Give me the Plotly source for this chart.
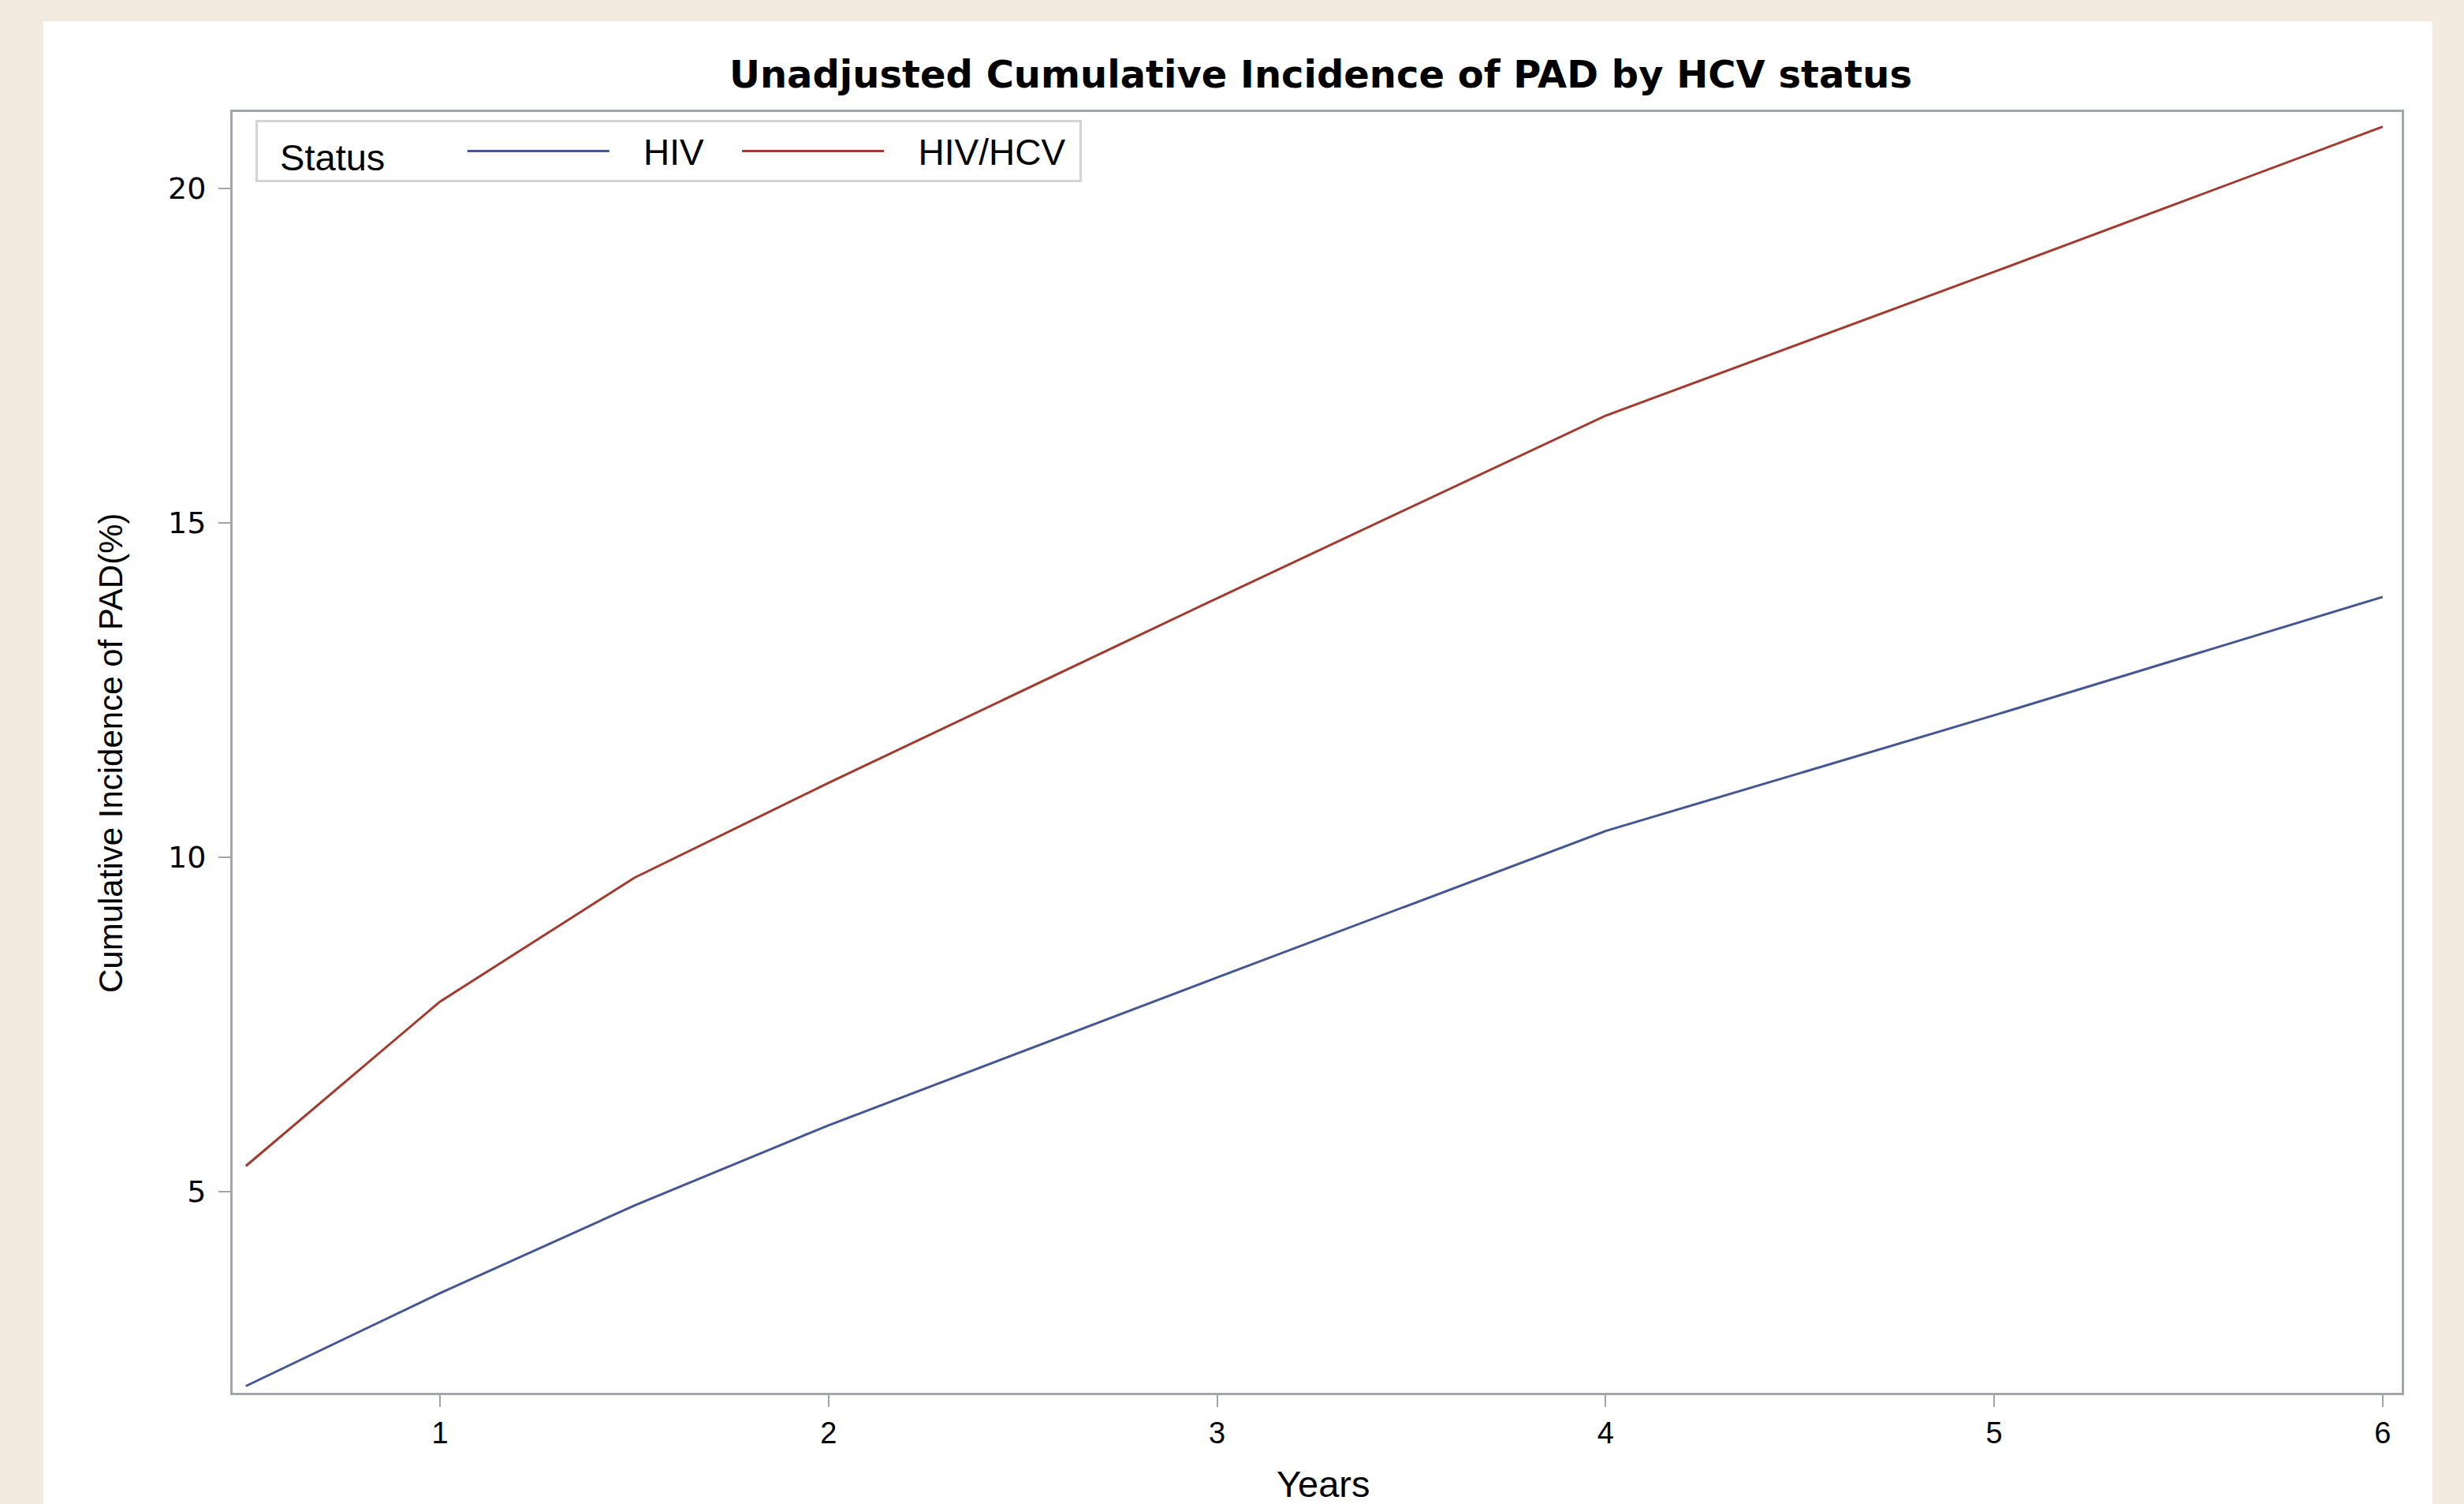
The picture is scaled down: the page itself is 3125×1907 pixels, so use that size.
import plotly.graph_objects as go

# ---- data ----
years = [0.5, 1, 1.5, 2, 3, 4, 5, 6]
hiv = [2.09, 3.48, 4.79, 5.99, 8.20, 10.39, 12.12, 13.89]
hiv_hcv = [5.38, 7.84, 9.69, 11.11, 13.87, 16.60, 18.75, 20.92]
series_names = ["HIV", "HIV/HCV"]
series_colors = ["#445694", "#A23A2E"]
x_ticks = [1, 2, 3, 4, 5, 6]
y_ticks = [5, 10, 15, 20]

W, H = 3125, 1907
L, R, T, B = 295, 3046, 142, 1766  # plot area in pixels
pw, ph = R - L, B - T

def px(x):
    return (x - L) / pw

def py(y):
    return (B - y) / ph

FONT = "Liberation Sans, Arial, sans-serif"
WIDE = "DejaVu Sans, Liberation Sans, sans-serif"
AXIS = "#A2A6AB"
NB = "\u00a0"

# legend label padding (spacing only; the label text is the series name)
lead = [NB * 3, NB * 3]
trail = [NB * 3, NB * 1]

fig = go.Figure()
for name, vals, col, a, b in zip(series_names, [hiv, hiv_hcv], series_colors, lead, trail):
    fig.add_trace(go.Scatter(x=years, y=vals, mode="lines", name=a + name + b,
                             line=dict(color=col, width=3)))

fig.update_layout(
    width=W, height=H,
    margin=dict(l=L, r=W - R, t=T, b=H - B, pad=0),
    paper_bgcolor="#F3EBDF",
    plot_bgcolor="white",
    font=dict(family=FONT, color="black"),
    title=dict(text="<b>Unadjusted Cumulative Incidence of PAD by HCV status</b>",
               x=px(1675), xref="paper", xanchor="center",
               y=1 - 94 / H, yanchor="middle",
               font=dict(size=48, family=WIDE, color="black")),
    showlegend=True,
    legend=dict(orientation="h", x=px(324), y=py(152), xanchor="left", yanchor="top",
                bgcolor="white", bordercolor="#D3D3D3", borderwidth=3,
                font=dict(size=46, family=FONT),
                title=dict(text=NB * 2 + "Status" + NB * 7,
                           font=dict(size=47, family=FONT), side="left"),
                itemwidth=180, tracegroupgap=0),
)

fig.update_xaxes(range=[0.466, 6.049], tickvals=x_ticks, ticktext=[str(v) for v in x_ticks],
                 ticks="outside", ticklen=15, tickwidth=2, tickcolor=AXIS,
                 showline=True, linecolor=AXIS, linewidth=3, mirror=True,
                 showgrid=False, zeroline=False,
                 tickfont=dict(size=38, family=FONT, color="black"))
fig.update_yaxes(range=[1.99, 21.14], tickvals=y_ticks, ticktext=[str(v) for v in y_ticks],
                 ticks="outside", ticklen=15, tickwidth=2, tickcolor=AXIS,
                 showline=True, linecolor=AXIS, linewidth=3, mirror=True,
                 showgrid=False, zeroline=False, ticklabelstandoff=8,
                 tickfont=dict(size=38, family=WIDE, color="black"))

# white panel behind the chart
fig.add_shape(type="rect", xref="paper", yref="paper", layer="below",
              x0=px(55), x1=px(3085), y0=py(H + 5), y1=py(27),
              fillcolor="white", line=dict(width=0))

# axis titles
fig.add_annotation(text="Years", xref="paper", yref="paper", x=px(1678), y=py(1881),
                   xanchor="center", yanchor="middle", showarrow=False,
                   font=dict(size=47, family=FONT, color="black"))
fig.add_annotation(text="Cumulative Incidence of PAD(%)", xref="paper", yref="paper",
                   x=px(140), y=py(955), textangle=-90,
                   xanchor="center", yanchor="middle", showarrow=False,
                   font=dict(size=42, family=FONT, color="black"))

fig.write_html("out.html", config={"displayModeBar": False},
               post_script="document.body.style.margin='0px';document.body.style.padding='0px';")
